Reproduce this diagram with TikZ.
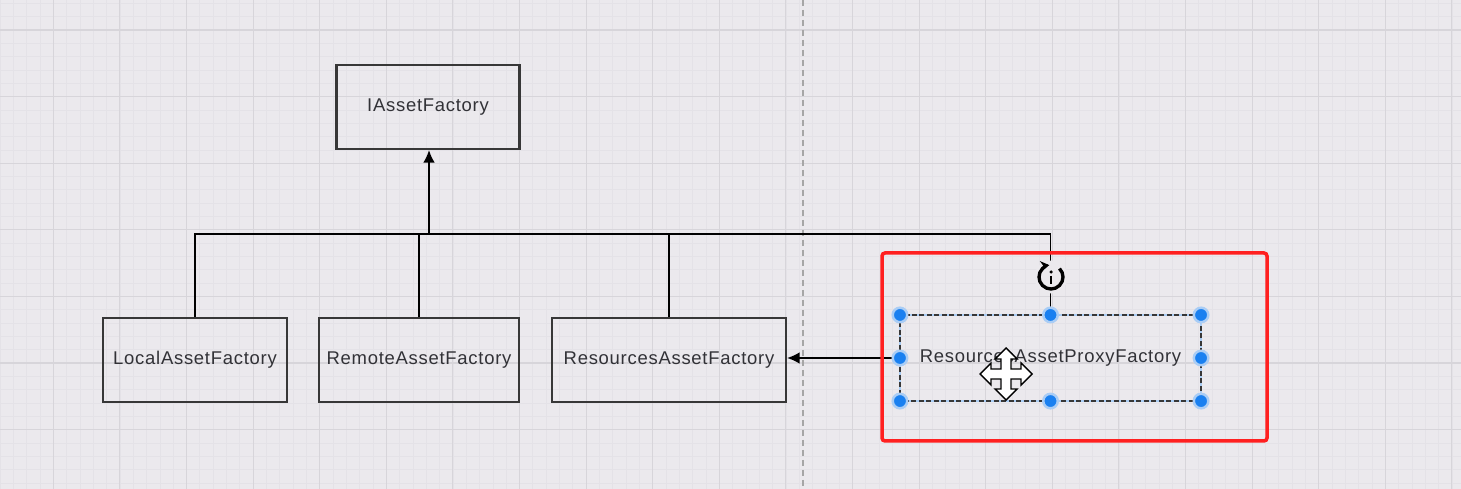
\documentclass[tikz,border=0pt]{standalone}
\usepackage{fontspec}
\setmainfont{Liberation Sans}
\newfontfamily\boxfont[LetterSpace=4]{Liberation Sans}
\usetikzlibrary{arrows.meta}

\definecolor{canvas}{RGB}{235,233,237}
\definecolor{minorline}{RGB}{228,226,231}
\definecolor{majorline}{RGB}{215,213,218}
\definecolor{boxline}{RGB}{55,55,55}
\definecolor{boxtext}{RGB}{50,50,55}
\definecolor{handleblue}{RGB}{26,128,240}
\definecolor{handlehalo}{RGB}{170,205,245}
\definecolor{markred}{RGB}{255,32,32}

\begin{document}
\begin{tikzpicture}[x=0.02cm, y=-0.02cm,
    cls/.style={draw=boxline, line width=1.2pt, inner sep=0pt,
      minimum height=84*\px, text=boxtext,
      font=\fontsize{10.5}{12}\boxfont},
    wire/.style={line width=0.9pt, black},
    handle/.style={fill=handleblue, draw=handlehalo, line width=1.4pt},
    >={Latex[length=0.25cm, width=0.23cm]}]

    \def \px {0.02cm}
    \def \gap {13.32} % grid step in pixels

    % canvas and grid
    \fill[canvas] (0,0) rectangle (1461,489);
    \useasboundingbox (0,0) rectangle (1461,489);
    \foreach \j in {-4,...,105}
      \draw[minorline, line width=0.4pt] ({53.3+\gap*\j},0) -- ({53.3+\gap*\j},489);
    \foreach \j in {-2,...,34}
      \draw[minorline, line width=0.4pt] (0,{30+\gap*\j}) -- (1461,{30+\gap*\j});
    \foreach \k in {-1,...,21}
      \draw[majorline, line width=0.6pt] ({53.3+5*\gap*\k},0) -- ({53.3+5*\gap*\k},489);
    \foreach \k in {-1,...,6}
      \draw[majorline, line width=0.6pt] (0,{30+5*\gap*\k}) -- (1461,{30+5*\gap*\k});
    \draw[gray!70, line width=0.6pt, dash pattern=on 0.12cm off 0.08cm] (803,0) -- (803,489);

    % classes
    \node[cls, minimum width=183*\px] (iface) at (428,107) {IAssetFactory};
    \node[cls, minimum width=184*\px] (local) at (195,360) {LocalAssetFactory};
    \node[cls, minimum width=200*\px] (remote) at (419,360) {RemoteAssetFactory};
    \node[cls, minimum width=234*\px] (res) at (669,360) {ResourcesAssetFactory};
    \node[cls, draw=none, minimum width=299*\px] (proxy) at (1050.5,358) {ResourcesAssetProxyFactory};

    % inheritance tree
    \coordinate (bus) at (429,234);
    \foreach \child in {local, remote, res, proxy}
      \draw[wire] (\child.north) |- (bus);
    \draw[wire, ->] (bus) -- (bus |- iface.south);
    \draw[wire, ->] (proxy.west) -- (proxy.west -| res.east);

    % selection of the proxy
    \draw[handlehalo, line width=1.4pt] (proxy.north west) rectangle (proxy.south east);
    \draw[boxline, line width=0.9pt, dash pattern=on 0.1cm off 0.05cm]
      (proxy.north west) rectangle (proxy.south east);
    \foreach \p in {north west, north, north east, west, east, south west, south, south east}
      \filldraw[handle] (proxy.\p) circle (0.145cm);

    % rotate icon
    \begin{scope}[shift={(1051,277)}, y=0.02cm]
      \fill[canvas] (0,0) circle (0.33cm);
      \draw[line width=1.9pt, -{Stealth[length=5pt, width=6pt]}]
        (45:12) arc[start angle=45, end angle=-262, radius=12];
      \draw[line width=1.4pt] (0,1) -- (0,-7);
      \fill (0,5) circle (0.035cm);
    \end{scope}

    % move cursor
    \begin{scope}[shift={(1006,374)}]
      \filldraw[fill=white, draw=black, line width=0.8pt, line join=miter]
        (0,-26) -- (11,-15) -- (5,-15) -- (5,-5) -- (15,-5) -- (15,-11) -- (26,0)
        -- (15,11) -- (15,5) -- (5,5) -- (5,15) -- (11,15) -- (0,26) -- (-11,15)
        -- (-5,15) -- (-5,5) -- (-15,5) -- (-15,11) -- (-26,0) -- (-15,-11)
        -- (-15,-5) -- (-5,-5) -- (-5,-15) -- (-11,-15) -- cycle;
    \end{scope}

    % highlight
    \draw[markred, line width=0.07cm, rounded corners=0.06cm] (882,253) rectangle (1267,441);
\end{tikzpicture}
\end{document}
